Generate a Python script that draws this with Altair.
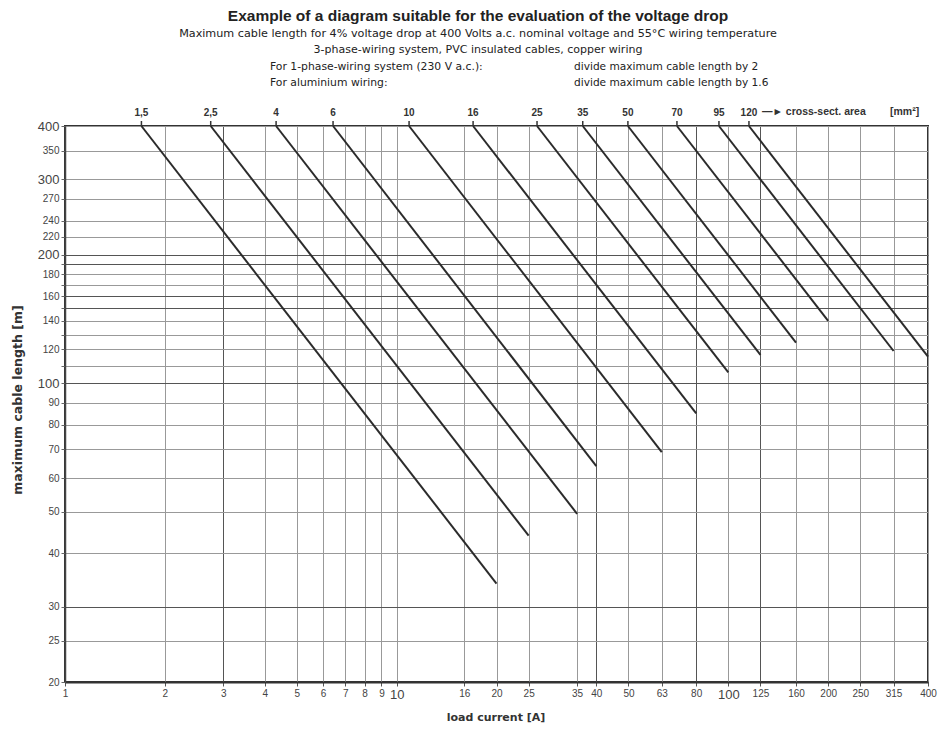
import altair as alt
import pandas as pd

# ---- data ----
sizes = ["1,5", "2,5", "4", "6", "10", "16", "25", "35", "50", "70", "95", "120"]
i_start = [1.70, 2.75, 4.33, 6.43, 10.9, 17.0, 26.5, 36.4, 49.8, 70.0, 93.7, 115.4]
i_end = [20, 25, 35, 40, 63, 80, 100, 125, 160, 200, 315, 400]
len_start = [400, 400, 400, 400, 400, 400, 400, 400, 400, 400, 400, 400]
len_end = [34, 44, 49.5, 64, 69, 85, 106, 116.5, 124.5, 140, 119, 115.4]

x_ticks = [1, 2, 3, 4, 5, 6, 7, 8, 9, 10, 16, 20, 25, 35, 40, 50, 63, 80, 100,
           125, 160, 200, 250, 315, 400]
y_grid = [20, 25, 30, 40, 50, 60, 70, 80, 90, 100, 110, 120, 130, 140, 150, 160,
          170, 180, 190, 200, 220, 240, 270, 300, 350, 400]
y_unlabelled = [110, 130, 150, 170, 190]
x_dark = [3, 40, 80, 125]
y_dark = [30, 100, 150, 160, 190, 200]

rows = []
for s, a, b, la, lb in zip(sizes, i_start, i_end, len_start, len_end):
    rows.append({"size": s, "current": a, "length": la, "pt": 0})
    rows.append({"size": s, "current": b, "length": lb, "pt": 1})
df = pd.DataFrame(rows)
top_df = pd.DataFrame({"size": sizes, "current": i_start})

W, H = 863, 556
FONT = "Liberation Sans"
WIDE = "DejaVu Sans"

xs = alt.Scale(type="log", domain=[1, 400], nice=False)
ys = alt.Scale(type="log", domain=[20, 400], nice=False)

x_axis = alt.Axis(
    values=x_ticks, title=None, format="d", grid=True,
    gridColor={"condition": {"test": f"indexof({x_dark}, datum.value) >= 0", "value": "#555"}, "value": "#999"},
    gridWidth=1,
    labelFont=FONT, labelColor="#444",
    labelFontSize={"condition": {"test": "datum.value == 10 || datum.value == 100", "value": 13}, "value": 10},
    labelOverlap=False, labelBound=False, labelFlush=False, labelPadding=2,
    tickSize=4, tickColor="#555", domainColor="#333", domainWidth=2,
)
y_axis = alt.Axis(
    values=y_grid, title=None, format="d", grid=True,
    gridColor={"condition": {"test": f"indexof({y_dark}, datum.value) >= 0", "value": "#555"}, "value": "#999"},
    gridWidth=1,
    labelExpr=f"indexof({y_unlabelled}, datum.value) >= 0 ? '' : datum.label",
    labelFont=FONT, labelColor="#444",
    labelFontSize={"condition": {"test": "datum.value == 100 || datum.value == 200 || datum.value == 300 || datum.value == 400", "value": 13}, "value": 10},
    labelOverlap=False, labelBound=False, labelFlush=False, labelPadding=2,
    tickSize=4, tickColor="#666", domainColor="#444", domainWidth=1.5,
)

X = alt.X("current:Q", scale=xs, axis=x_axis)
Y = alt.Y("length:Q", scale=ys, axis=y_axis)

lines = alt.Chart(df).mark_line(color="#2b2b2b", strokeWidth=2).encode(
    x=X, y=Y, detail="size:N", order="pt:Q"
)

top_ticks = alt.Chart(top_df).mark_rule(color="#333", strokeWidth=1.5).encode(
    x=X, y=alt.value(-5), y2=alt.value(0)
)
top_text = alt.Chart(top_df).mark_text(
    font=FONT, fontWeight="bold", fontSize=10, color="#333", baseline="middle"
).encode(x=X, y=alt.value(-13), text="size:N")


def note(text, x, y, size=11, weight="normal", align="left", angle=0, color="#222", font=FONT):
    return alt.Chart(alt.Data(values=[{"t": text}])).mark_text(
        font=font, fontSize=size, fontWeight=weight, align=align, angle=angle,
        color=color, baseline="middle"
    ).encode(x=alt.value(x), y=alt.value(y), text="t:N")


notes = [
    note("Example of a diagram suitable for the evaluation of the voltage drop", 413, -110, size=15.5, weight="bold", align="center"),
    note("Maximum cable length for 4% voltage drop at 400 Volts a.c. nominal voltage and 55°C wiring temperature", 413, -92, size=11.2, align="center", font=WIDE),
    note("3-phase-wiring system, PVC insulated cables, copper wiring", 413, -76, size=11, align="center", font=WIDE),
    note("For 1-phase-wiring system (230 V a.c.):", 205, -59, size=10.8, font=WIDE),
    note("divide maximum cable length by 2", 509, -59, size=10.6, font=WIDE),
    note("For aluminium wiring:", 205, -43, size=10.8, font=WIDE),
    note("divide maximum cable length by 1.6", 509, -43, size=10.6, font=WIDE),
    note("—► cross-sect. area", 697, -14, size=10.5, weight="bold", color="#333"),
    note("[mm²]", 825, -14, size=10.5, weight="bold", color="#333"),
    note("maximum cable length [m]", -47, 274, size=12.5, weight="bold", angle=270, align="center", color="#333", font=WIDE),
    note("load current [A]", 431, 592, size=11, weight="bold", align="center", color="#333", font=WIDE),
]

chart = alt.layer(lines, top_ticks, top_text, *notes).properties(
    width=W, height=H,
    autosize=alt.AutoSizeParams(type="none"),
    padding={"left": 57, "top": 118, "right": 10, "bottom": 48},
    background="white",
).configure_view(stroke="#333", strokeWidth=2)

chart.save("out.html", embed_options={"renderer": "svg", "actions": False})
